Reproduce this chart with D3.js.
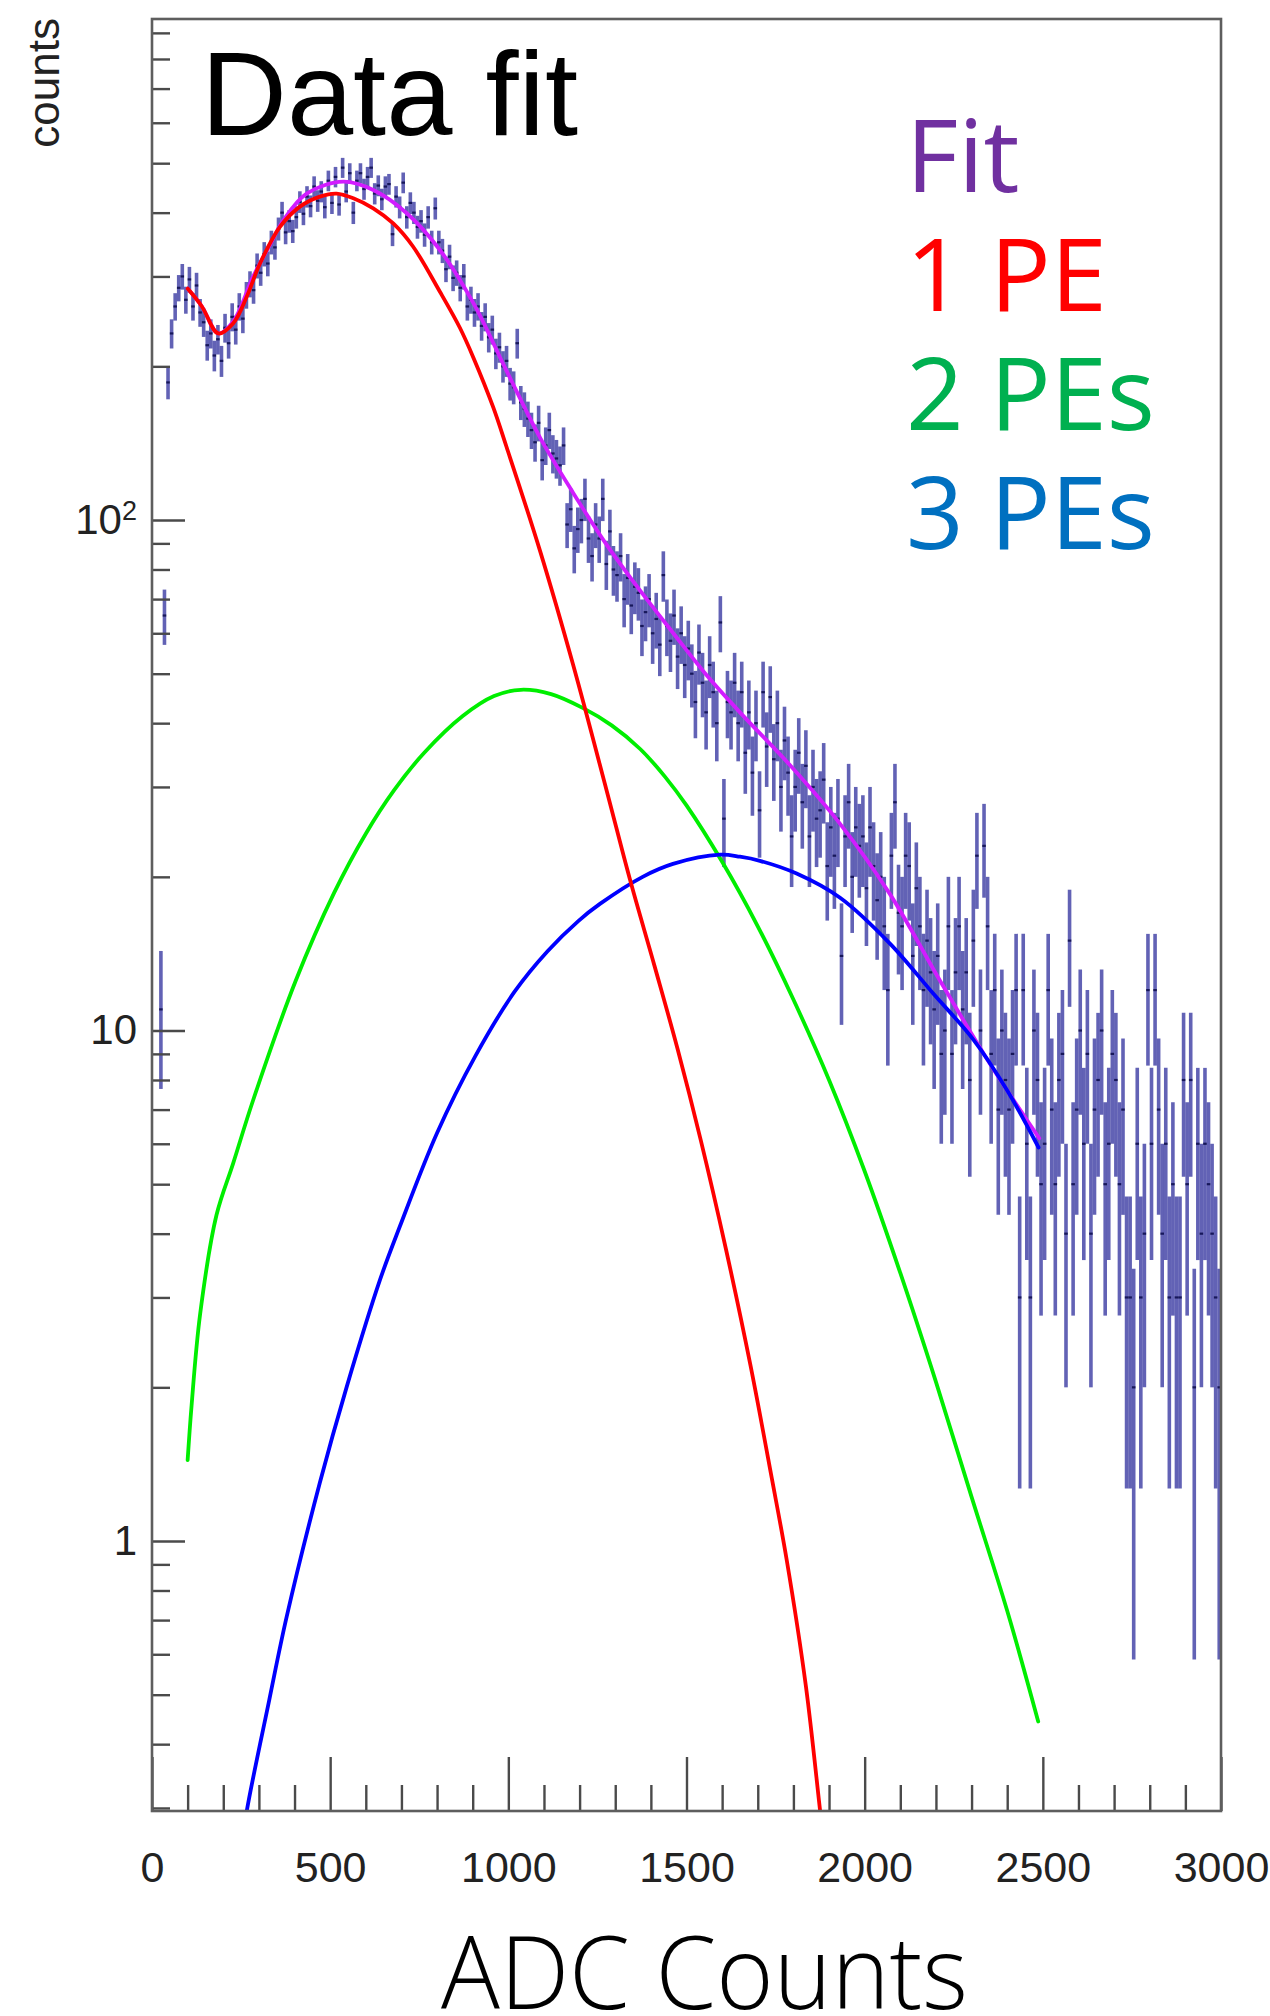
<!DOCTYPE html>
<html>
<head>
<meta charset="utf-8">
<script src="https://cdn.jsdelivr.net/npm/d3@7"></script>
<style>
  html, body { margin: 0; padding: 0; background: #fff; }
  svg { display: block; }
</style>
</head>
<body>
<svg id="chart" width="1270" height="2016"></svg>
<script>
// ADC spectrum: counts per 10-ADC bin, 0 to 3000
const binWidth = 10;
const counts = [
  0, 0, 11, 65, 186, 232, 262, 285, 300, 270,
  296, 262, 288, 255, 244, 220, 232, 210, 226, 205,
  238, 222, 250, 236, 262, 248, 276, 290, 282, 315,
  305, 332, 318, 350, 342, 372, 400, 366, 385, 368,
  392, 420, 398, 430, 412, 450, 422, 440, 410, 462,
  418, 470, 415, 490, 440, 478, 400, 462, 478, 445,
  470, 490, 436, 452, 425, 450, 455, 363, 430, 410,
  458, 392, 418, 400, 375, 385, 362, 392, 350, 408,
  350, 337, 310, 328, 298, 305, 285, 300, 262, 270,
  255, 262, 240, 250, 228, 236, 212, 218, 200, 205,
  185, 182, 222, 170, 165, 158, 150, 142, 155, 131,
  140, 150, 135, 132, 128, 140, 98, 105, 88, 96,
  100, 110, 92, 85, 98, 92, 110, 82, 95, 80,
  78, 85, 70, 77, 68, 74, 72, 62, 66, 70,
  60, 64, 57, 78, 62, 58, 65, 54, 60, 52,
  56, 50, 44, 55, 48, 42, 52, 46, 40, 63,
  26, 44, 42, 48, 40, 46, 35, 42, 32, 40,
  27, 46, 36, 45, 34, 40, 30, 37, 32, 24,
  30, 35, 28, 33, 24, 30, 26, 27, 31, 21,
  25, 22, 26, 14, 24, 28, 20, 25, 23, 24,
  19, 25, 21, 18, 20, 16, 12, 22, 28, 17,
  16, 22, 21, 14, 19, 16, 12, 15, 13, 11,
  14, 9, 10, 16, 9, 13, 16, 11, 13, 8,
  15, 22, 10, 23, 16, 9, 12, 7, 10, 8,
  7, 9, 12, 3, 12, 6, 3, 10, 8, 5,
  6, 12, 7, 5, 8, 9, 4, 15, 5, 7,
  10, 6, 9, 4, 7, 8, 10, 5, 6, 9,
  8, 5, 7, 3, 3, 2, 6, 3, 4, 12,
  6, 12, 7, 4, 6, 3, 5, 3, 3, 8,
  5, 8, 2, 6, 4, 6, 5, 4, 3, 2
];

// Fit curves as [ADC, counts] samples
const fitTotal = [
  [100, 284], [140, 262], [186, 232], [228, 245], [284, 300], [330, 345],
  [369, 387], [434, 436], [537, 460], [621, 443], [715, 399], [808, 338],
  [902, 266], [995, 196], [1089, 145], [1182, 113], [1276, 89.4], [1370, 72.7],
  [1463, 60], [1556, 49.7], [1650, 42], [1792, 33], [1931, 25.4], [2071, 18.5],
  [2212, 12.5], [2352, 8.6], [2490, 6.15]
];
const fit1PE = [
  [100, 284], [140, 262], [186, 232], [228, 243], [266, 274], [303, 318],
  [359, 375], [415, 411], [471, 430], [518, 436], [565, 427], [621, 408],
  [677, 381], [733, 343], [808, 280], [864, 238], [902, 208], [958, 166],
  [995, 139], [1089, 87], [1182, 52], [1276, 29.5], [1341, 19.8], [1410, 13.4],
  [1475, 9.2], [1540, 6.1], [1610, 3.75], [1680, 2.2], [1740, 1.32], [1781, 0.92],
  [1835, 0.52], [1875, 0.296], [1890, 0.24]
];
const fit2PE = [
  [100, 1.44], [111, 1.84], [135, 2.78], [181, 4.35], [228, 5.5], [284, 7.31],
  [403, 12.5], [511, 18.6], [600, 24.3], [680, 29.6], [764, 35.0], [872, 41.3],
  [960, 45.2], [1035, 46.5], [1120, 45.6], [1210, 42.8], [1290, 39.6], [1370, 35.6],
  [1440, 31.4], [1500, 27.6], [1600, 21.4], [1700, 16.0], [1800, 11.5], [1900, 8.0],
  [2000, 5.3], [2100, 3.35], [2200, 2.05], [2300, 1.22], [2400, 0.73], [2487, 0.443]
];
const fit3PE = [
  [255, 0.26], [266, 0.296], [329, 0.488], [378, 0.711], [471, 1.30], [546, 2.0],
  [640, 3.25], [696, 4.14], [800, 6.3], [907, 8.9], [1017, 11.9], [1110, 14.3],
  [1197, 16.4], [1257, 17.7], [1377, 20.0], [1462, 21.2], [1594, 22.1], [1650, 21.9],
  [1706, 21.5], [1809, 20.3], [1931, 18.2], [2071, 14.8], [2193, 11.8], [2305, 9.6],
  [2398, 7.67], [2488, 5.9]
];

const xMajorTicks = [0, 500, 1000, 1500, 2000, 2500, 3000];
const yMajorTicks = [1, 10, 100];
const legendLabels = ["Fit", "1 PE", "2 PEs", "3 PEs"];

const legendColors = {"Fit": "#7030A0", "1 PE": "#FF0000", "2 PEs": "#00B050", "3 PEs": "#0070C0"};

const svg = d3.select("#chart");
svg.append("rect").attr("width", 1270).attr("height", 2016).attr("fill", "#fff");

const plot = {left: 152, right: 1221, top: 19, bottom: 1811};
const x = d3.scaleLinear().domain([0, 3000]).range([plot.left, plot.right]);
const y = d3.scaleLog().domain([0.2959, 958.1]).range([plot.bottom, plot.top]);

svg.append("defs").append("clipPath").attr("id", "plotClip")
  .append("rect")
  .attr("x", plot.left).attr("y", plot.top)
  .attr("width", plot.right - plot.left).attr("height", plot.bottom - plot.top);

// Histogram with statistical error bars
const bins = counts.map((n, i) => ({lo: i * binWidth, hi: (i + 1) * binWidth, n}))
  .filter(d => d.n > 0);

const dataG = svg.append("g").attr("clip-path", "url(#plotClip)");
dataG.selectAll("line.err")
  .data(bins)
  .join("line")
  .attr("class", "err")
  .attr("x1", d => x((d.lo + d.hi) / 2))
  .attr("x2", d => x((d.lo + d.hi) / 2))
  .attr("y1", d => {
    const low = d.n - Math.sqrt(d.n);
    return low > 0 ? y(low) : plot.bottom + 10;
  })
  .attr("y2", d => y(d.n + Math.sqrt(d.n)))
  .attr("stroke", "#10108e")
  .attr("stroke-opacity", 0.66)
  .attr("stroke-width", 3.6);

dataG.selectAll("line.bin")
  .data(bins)
  .join("line")
  .attr("class", "bin")
  .attr("x1", d => x(d.lo))
  .attr("x2", d => x(d.hi))
  .attr("y1", d => y(d.n))
  .attr("y2", d => y(d.n))
  .attr("stroke", "#0a0a4a")
  .attr("stroke-opacity", 0.85)
  .attr("stroke-width", 2.2);

// Fit curves
const line = d3.line()
  .x(d => x(d[0]))
  .y(d => y(d[1]))
  .curve(d3.curveCatmullRom.alpha(0.5));

const curveG = svg.append("g").attr("clip-path", "url(#plotClip)").attr("fill", "none")
  .attr("stroke-width", 3.8).attr("stroke-linejoin", "round").attr("stroke-linecap", "round");
curveG.append("path").datum(fitTotal).attr("d", line).attr("stroke", "#d21cff");
curveG.append("path").datum(fit2PE).attr("d", line).attr("stroke", "#00ee00");
curveG.append("path").datum(fit3PE).attr("d", line).attr("stroke", "#0000ff");
curveG.append("path").datum(fit1PE).attr("d", line).attr("stroke", "#ff0000");

// Axes
const axisColor = "#4a4a4a";
const labelFont = "'Liberation Sans', Arial, Helvetica, sans-serif";

const xMinor = d3.range(0, 3001, 100).filter(v => v % 500 !== 0);
svg.append("g")
  .attr("transform", `translate(0,${plot.bottom})`)
  .call(d3.axisBottom(x).tickValues(xMinor).tickSize(-26).tickFormat(""))
  .call(g => g.select(".domain").remove());
svg.append("g")
  .attr("transform", `translate(0,${plot.bottom})`)
  .call(d3.axisBottom(x).tickValues(xMajorTicks).tickSize(-54).tickPadding(40).tickFormat(d3.format("d")))
  .call(g => g.select(".domain").remove())
  .call(g => g.selectAll("text").attr("font-family", labelFont).attr("font-size", 43).attr("fill", "#222"));

const yMinor = [];
[-1, 0, 1, 2].forEach(p => {
  for (let k = 2; k <= 9; k++) {
    const v = k * Math.pow(10, p);
    if (v >= 0.2959 && v <= 958.1) yMinor.push(v);
  }
});
svg.append("g")
  .attr("transform", `translate(${plot.left},0)`)
  .call(d3.axisLeft(y).tickValues(yMinor).tickSize(-18).tickFormat(""))
  .call(g => g.select(".domain").remove());
const yAxisG = svg.append("g")
  .attr("transform", `translate(${plot.left},0)`)
  .call(d3.axisLeft(y).tickValues(yMajorTicks).tickSize(-33).tickPadding(15).tickFormat(d => d === 100 ? "10" : String(d)))
  .call(g => g.select(".domain").remove());
yAxisG.selectAll("text")
  .attr("font-family", labelFont).attr("font-size", 42).attr("fill", "#222");
yAxisG.selectAll(".tick").filter(d => d === 100).select("text")
  .append("tspan").attr("dy", "-0.5em").attr("font-size", 27).text("2");

svg.selectAll(".tick line").attr("stroke", axisColor).attr("stroke-width", 2.4);

// Frame
svg.append("rect")
  .attr("x", plot.left).attr("y", plot.top)
  .attr("width", plot.right - plot.left).attr("height", plot.bottom - plot.top)
  .attr("fill", "none").attr("stroke", "#5e5e5e").attr("stroke-width", 2.6);

// Axis titles
svg.append("text")
  .attr("transform", `translate(59,18) rotate(-90)`)
  .attr("text-anchor", "end")
  .attr("font-family", labelFont).attr("font-size", 44).attr("fill", "#222")
  .text("counts");

svg.append("text")
  .attr("x", 441).attr("y", 2009)
  .attr("font-family", "'Open Sans', 'Noto Sans', sans-serif")
  .attr("font-weight", 300)
  .attr("font-size", 102)
  .attr("textLength", 527).attr("lengthAdjust", "spacingAndGlyphs")
  .attr("fill", "#000")
  .text("ADC Counts");

// Title inside the frame
svg.append("text")
  .attr("x", 201).attr("y", 135)
  .attr("font-family", labelFont).attr("font-size", 119).attr("fill", "#000")
  .text("Data fit");

// Legend
svg.append("g").selectAll("text")
  .data(legendLabels)
  .join("text")
  .attr("x", 906)
  .attr("y", (d, i) => 192 + i * 119)
  .attr("font-family", "'Open Sans', 'Noto Sans', sans-serif")
  .attr("font-size", 101)
  .attr("fill", d => legendColors[d])
  .text(d => d);
</script>
</body>
</html>
